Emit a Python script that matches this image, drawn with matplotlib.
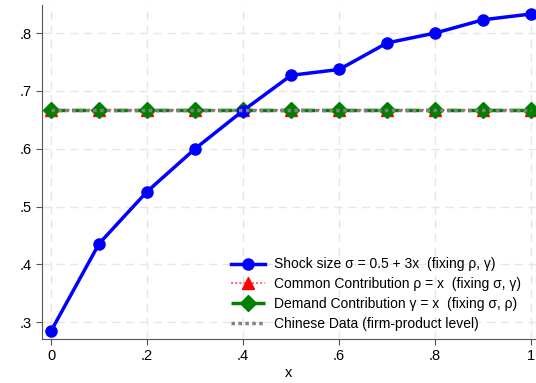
import matplotlib.pyplot as plt
import numpy as np

plt.rcParams['font.family'] = ['Liberation Sans', 'DejaVu Sans']

x = [0, 0.1, 0.2, 0.3, 0.4, 0.5, 0.6, 0.7, 0.8, 0.9, 1.0]
shock = [0.285, 0.436, 0.526, 0.600, 0.666, 0.727, 0.737, 0.783, 0.800, 0.823, 0.833]
common = [0.667] * 11
demand = [0.667] * 11
chinese = [0.667] * 11

xticks = [0, 0.2, 0.4, 0.6, 0.8, 1.0]
xlabels = ["0", ".2", ".4", ".6", ".8", "1"]
yticks = [0.3, 0.4, 0.5, 0.6, 0.7, 0.8]
ylabels = [".3", ".4", ".5", ".6", ".7", ".8"]

fig = plt.figure(figsize=(5.36, 3.83), dpi=100)
ax = fig.add_axes([42 / 536, 44 / 383, 494 / 536, 334 / 383])

ax.plot(x, shock, color="blue", lw=2.5, marker="o", ms=8,
        label="Shock size σ = 0.5 + 3x  (fixing ρ, γ)", zorder=5)
ax.plot(x, common, color="#ff7070", lw=1.5, ls=(0, (1, 1)), marker="^", ms=8,
        mfc="red", mec="red",
        label="Common Contribution ρ = x  (fixing σ, γ)", zorder=3)
ax.plot(x, demand, color="green", lw=2.5, ls=(0, (4, 2)), marker="D", ms=8,
        label="Demand Contribution γ = x  (fixing σ, ρ)", zorder=4)
ax.plot(x, chinese, color="gray", lw=2.5, ls=(0, (1, 1)),
        label="Chinese Data (firm-product level)", zorder=6)

ax.set_xlim(-0.019, 1.01)
ax.set_ylim(0.271, 0.8485)
ax.set_xticks(xticks, xlabels)
ax.set_yticks(yticks, ylabels)
ax.set_xlabel("x", fontsize=10.5, labelpad=2)
ax.tick_params(labelsize=10.5, direction="out", length=4, color="#555555")
ax.grid(True, color="#e6e6e6", ls=(0, (6, 4)), lw=1)
ax.set_axisbelow(True)
for s in ["top", "right"]:
    ax.spines[s].set_visible(False)
ax.spines["left"].set_color("#555555")
ax.spines["bottom"].set_color("#555555")

ax.legend(loc="lower right", bbox_to_anchor=(0.99, -0.005), frameon=False,
          fontsize=10, handlelength=2.4, handletextpad=0.7, labelspacing=0.42,
          borderaxespad=0.3)

fig.savefig("out.png", dpi=100)
